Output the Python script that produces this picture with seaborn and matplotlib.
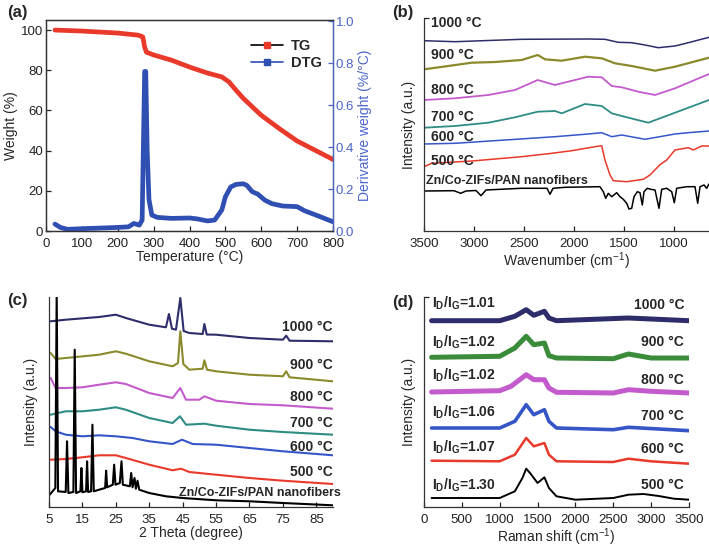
import numpy as np
import pandas as pd
import matplotlib
matplotlib.use('Agg')
import matplotlib.pyplot as plt
from matplotlib.lines import Line2D
import seaborn as sns

# ---------------- (a) TG / DTG ----------------
tg_temp = [25, 100, 200, 255, 265, 270, 275, 280, 300, 350, 400, 450, 490, 510, 530, 550, 600, 650, 700, 750, 800]
tg_weight = [100, 99.5, 98.5, 97.5, 97, 96.5, 91.5, 89, 87.6, 85, 81.6, 78.6, 76.7, 74.2, 70, 66, 57.6, 51, 44.8, 40.2, 35.6]

dtg_temp = [25, 40, 60, 100, 150, 200, 230, 245, 260, 268, 272, 275, 278, 282, 287, 295, 310, 350, 400,
            420, 450, 470, 490, 500, 515, 530, 550, 560, 575, 590, 610, 630, 660, 700, 720, 760, 800]
dtg_value = [0.033, 0.017, 0.008, 0.011, 0.014, 0.017, 0.02, 0.036, 0.028, 0.052, 0.46, 0.76, 0.76, 0.385, 0.15,
             0.076, 0.065, 0.06, 0.062, 0.058, 0.048, 0.052, 0.1, 0.163, 0.21, 0.222, 0.225, 0.217, 0.187, 0.176,
             0.147, 0.13, 0.119, 0.116, 0.097, 0.071, 0.044]

# ---------------- (b) FTIR ----------------
ftir_labels = ['1000 °C', '900 °C', '800 °C', '700 °C', '600 °C', '500 °C', 'Zn/Co-ZIFs/PAN nanofibers']

ftir_wn_1000 = [3500, 3190, 2523, 1857, 1690, 1557, 1423, 1290, 1157, 990, 857, 650]
ftir_1000 = [190.3, 189.3, 191.7, 192, 191.7, 188.7, 188.3, 186, 183.3, 185, 188.3, 193.7]

ftir_wn_900 = [3500, 3257, 3023, 2790, 2523, 2363, 2290, 2123, 1890, 1723, 1590, 1423, 1190, 990, 650]
ftir_900 = [161.7, 165, 168.3, 169, 171, 176, 171.7, 170.3, 174.3, 172.7, 167.7, 165, 160.3, 164.3, 173.3]

ftir_wn_800 = [3500, 3190, 2857, 2590, 2363, 2190, 2123, 1857, 1723, 1623, 1523, 1357, 1190, 990, 650]
ftir_800 = [131, 132.7, 136, 141, 151, 146, 147.7, 154.3, 153.7, 145, 143.7, 139.3, 136, 142.7, 157]

ftir_wn_700 = [3500, 3190, 2857, 2590, 2363, 2190, 2123, 1890, 1723, 1623, 1523, 1257, 990, 650]
ftir_700 = [103.3, 105, 108.3, 113.7, 119.3, 120, 117.7, 127, 125, 117.7, 115, 108.3, 118.3, 131]

ftir_wn_600 = [3500, 3190, 2690, 2190, 1857, 1723, 1623, 1523, 1290, 990, 857, 650]
ftir_600 = [87, 87.7, 91, 94.3, 97, 98.3, 94.3, 96, 91.7, 97, 98.3, 100]

ftir_wn_500 = [3500, 3423, 3023, 2523, 2223, 2023, 1790, 1723, 1690, 1640, 1607, 1473, 1307, 1240, 1140,
               1073, 990, 857, 807, 723, 650]
ftir_500 = [64.3, 67.7, 70, 74.3, 77.7, 80.3, 84.3, 85.3, 71, 56, 50.3, 49.3, 51.7, 56, 66.3,
            71, 81, 83.3, 81, 85, 85]

ftir_wn_zif = [3500, 3200, 3133, 3080, 2980, 2930, 2880, 2530, 2270, 2240, 2210, 2090, 1740, 1707, 1683,
               1657, 1623, 1573, 1540, 1507, 1473, 1450, 1423, 1400, 1367, 1340, 1317, 1300, 1267, 1233,
               1190, 1150, 1123, 1073, 1023, 997, 973, 873, 790, 763, 740, 700, 673, 650]
ftir_zif = [40, 40.3, 37.7, 40, 40.5, 35.3, 41, 42.7, 42.7, 36.7, 42.7, 43.7, 44.3, 39.3, 32.7,
            37.7, 34.3, 38.3, 34.3, 31.7, 27.7, 22, 22.7, 34.3, 39.3, 38.3, 26, 39.3, 42.7, 41.7,
            41, 22.7, 41.7, 42.7, 39.3, 28.3, 42.7, 44.3, 44.3, 27.7, 44.3, 46, 42.7, 47]

# ---------------- (c) XRD ----------------
xrd_tt_1000 = [5.5, 10, 20, 25, 28, 35, 40, 40.9, 41.8, 43, 44.3, 45.3, 47, 51, 51.5, 52.2, 55, 65, 75, 76, 77, 90]
xrd_1000 = [185.7, 187.3, 190, 192.3, 189, 182.3, 179.7, 193, 178.3, 177.3, 209, 176, 174, 173, 183, 172.5,
            172.3, 169, 167.3, 171.3, 166.3, 165.7]

xrd_tt_900 = [5.5, 7, 10, 20, 25, 28, 35, 42, 43.6, 44.3, 45.2, 47, 51, 51.5, 52.3, 55, 65, 75, 76, 77, 90]
xrd_900 = [154, 148, 149, 152.3, 155.7, 153.3, 145.7, 140.7, 144, 175.7, 143, 137.3, 138.3, 146.7, 137.3,
           135.7, 132.3, 130.7, 135.7, 129.7, 125.7]

xrd_tt_800 = [5.5, 7, 10, 15, 20, 25, 28, 35, 42, 44.3, 46, 50, 51.5, 55, 65, 75, 90]
xrd_800 = [129, 119, 119, 119.7, 122.3, 124.7, 123, 114, 109, 119, 107.3, 107.3, 110.7, 106.3, 103, 101.7, 98.3]

xrd_tt_700 = [5.5, 10, 15, 20, 25, 28, 35, 42, 44.2, 46, 51.5, 55, 65, 75, 90]
xrd_700 = [92.3, 95.7, 95.7, 97.3, 99.7, 97.3, 89, 84, 90.7, 82.3, 83.3, 81.3, 77.3, 75, 72.3]

xrd_tt_600 = [5.5, 7, 10, 15, 20, 25, 30, 35, 42, 44.8, 48, 55, 65, 75, 90]
xrd_600 = [80, 75.7, 72.3, 70.7, 71.7, 70.7, 69, 65.7, 63, 67.3, 63, 62.3, 59, 55.7, 51.7]

xrd_tt_500 = [5.5, 10, 15, 20, 25, 28, 35, 42, 44.5, 47, 55, 65, 75, 90]
xrd_500 = [47.3, 48, 49.7, 51.7, 51.7, 49, 42.3, 36.7, 38.3, 35, 32.3, 29, 26.3, 23]

xrd_tt_zif = [5.2, 6.9, 7.3, 7.7, 10.0, 10.4, 10.8, 12.3, 12.7, 13.1, 14.4, 14.7, 15.0, 16.1, 16.4, 16.7,
              17.6, 18.0, 18.4, 20, 21.8, 22.1, 22.4, 24.1, 24.5, 24.9, 26.2, 26.7, 27.1, 29.2, 29.6, 30.0,
              30.6, 31.0, 31.5, 32.0, 35, 40, 45, 55, 65, 75, 90]
xrd_zif = [12.3, 19, 215, 15.7, 15, 65.7, 14, 15, 157.3, 14, 15.7, 39, 14.7, 15.7, 45.7, 15, 15.7, 82.3, 15.7,
           17.3, 19, 36.3, 19.7, 22.3, 42.3, 22.3, 24, 45.7, 22.3, 20.7, 34, 19.7, 29, 18.3, 26.3, 17.3,
           14, 10.7, 9, 6.7, 5.7, 4, 1.7]

# ---------------- (d) Raman ----------------
raman_ratio = ['1.01', '1.02', '1.02', '1.06', '1.07', '1.30']
raman_temp = ['1000 °C', '900 °C', '800 °C', '700 °C', '600 °C', '500 °C']

raman_x_1000 = [100, 1000, 1200, 1350, 1450, 1590, 1650, 1750, 2700, 3500]
raman_1000 = [186.3, 186.3, 190.7, 197.3, 191.7, 195.7, 189, 186.3, 189, 186.3]

raman_x_900 = [100, 1000, 1200, 1350, 1450, 1590, 1650, 1750, 2500, 2700, 3000, 3500]
raman_900 = [149.7, 150.7, 159, 170.7, 162.3, 164, 151.3, 149, 148.3, 153, 149, 149]

raman_x_800 = [100, 1000, 1150, 1350, 1450, 1590, 1650, 1750, 2500, 2700, 3000, 3500]
raman_800 = [115, 116.3, 120.7, 132.3, 127.3, 127.3, 119, 114.7, 114, 117.3, 115.7, 114]

raman_x_700 = [100, 1000, 1200, 1350, 1450, 1590, 1650, 1750, 2500, 2700, 3500]
raman_700 = [79, 79, 85.7, 102.3, 92.3, 97.3, 85.7, 79, 77.3, 79.7, 76.3]

raman_x_600 = [100, 1000, 1200, 1350, 1450, 1590, 1650, 1750, 2500, 2700, 3000, 3500]
raman_600 = [46.3, 45.7, 52.3, 69, 60.7, 64, 52.3, 45.7, 45, 48.3, 45.7, 43.3]

raman_x_500 = [100, 1000, 1200, 1300, 1350, 1400, 1500, 1590, 1650, 1750, 2000, 2500, 2700, 2900, 3100, 3300, 3500]
raman_500 = [9, 9, 15.7, 29, 38.3, 34, 24, 29.7, 19, 10.7, 7.3, 9, 12.3, 13, 11, 8.3, 7.3]

# ---------------- styling ----------------
sns.set_theme(style='ticks')
plt.rcParams['font.family'] = ['Liberation Sans', 'DejaVu Sans']
plt.rcParams['mathtext.fontset'] = 'custom'
plt.rcParams['mathtext.rm'] = 'Liberation Sans'
plt.rcParams['mathtext.it'] = 'Liberation Sans:italic'
plt.rcParams['mathtext.bf'] = 'Liberation Sans:bold'
plt.rcParams['xtick.direction'] = 'in'
plt.rcParams['ytick.direction'] = 'in'

TICK_FS = 9.5
LABEL_FS = 10
ANN_FS = 10

c_navy = '#2e2d6b'
c_olive = '#8a8a2d'
c_magenta = '#c35bcc'
c_teal = '#2e8c84'
c_blue = '#3656c8'
c_red = '#e8392a'
c_green = '#3b8c3a'
c_dtg = '#2f4fb2'
c_axblue = '#4b64c9'

W, H = 709, 548
fig = plt.figure(figsize=(W / 100, H / 100), dpi=100)


def px_axes(left, top, right, bottom):
    return fig.add_axes([left / W, (H - bottom) / H, (right - left) / W, (bottom - top) / H])


def style_spines(ax):
    for s in ['left', 'bottom', 'top', 'right']:
        ax.spines[s].set_linewidth(0.9)
        ax.spines[s].set_color('#333333')
    ax.tick_params(labelsize=TICK_FS, width=0.9, length=3.5, colors='#222222', pad=2)
    ax.tick_params(axis='x', pad=5)


def line(ax, x, y, color, lw):
    sns.lineplot(x=x, y=y, ax=ax, color=color, lw=lw, estimator=None, sort=False)


# ---------------- (a) ----------------
ax_a = px_axes(46, 20, 333, 231)
line(ax_a, tg_temp, tg_weight, c_red, 3.4)
ax_a.set_xlim(0, 800)
ax_a.set_ylim(0, 105)
ax_a.set_xticks(range(0, 801, 100))
ax_a.set_yticks(range(0, 101, 20))
style_spines(ax_a)
ax_a.set_xlabel('Temperature (°C)', fontsize=LABEL_FS, labelpad=0)
ax_a.set_ylabel('Weight (%)', fontsize=LABEL_FS, labelpad=2)

ax_a2 = ax_a.twinx()
line(ax_a2, dtg_temp, dtg_value, c_dtg, 3.4)
ax_a2.set_ylim(0, 1.005)
ax_a2.set_yticks(np.arange(0, 1.01, 0.2))
ax_a2.set_yticklabels(['0.0', '0.2', '0.4', '0.6', '0.8', '1.0'])
style_spines(ax_a2)
ax_a2.spines['right'].set_color(c_axblue)
ax_a2.tick_params(axis='y', colors=c_axblue, labelsize=TICK_FS)
ax_a2.set_ylabel('Derivative weight (%/°C)', fontsize=LABEL_FS, color=c_axblue, labelpad=3)
ax_a2.set_xlim(0, 800)

handles = [Line2D([], [], color='black', lw=1.2, marker='s', markersize=5,
                  markerfacecolor=c_red, markeredgecolor=c_red),
           Line2D([], [], color=c_dtg, lw=1.2, marker='s', markersize=5,
                  markerfacecolor=c_dtg, markeredgecolor=c_dtg)]
ax_a2.legend(handles, ['TG', 'DTG'], loc='upper left', bbox_to_anchor=(0.67, 0.97), frameon=False,
             prop={'weight': 'bold', 'size': 10.5}, handlelength=2.2, handletextpad=0.5, labelspacing=0.2)

# ---------------- (b) ----------------
ax_b = px_axes(424, 18, 709, 231)
ftir_x = [ftir_wn_1000, ftir_wn_900, ftir_wn_800, ftir_wn_700, ftir_wn_600, ftir_wn_500, ftir_wn_zif]
ftir_y = [ftir_1000, ftir_900, ftir_800, ftir_700, ftir_600, ftir_500, ftir_zif]
ftir_colors = [c_navy, c_olive, c_magenta, c_teal, c_blue, c_red, 'black']
ftir_lw = [1.1, 1.6, 1.3, 1.3, 1.1, 1.1, 1.1]
for xs, ys, c, lw in zip(ftir_x, ftir_y, ftir_colors, ftir_lw):
    line(ax_b, xs, ys, c, lw)
ax_b.set_xlim(3500, 650)
ax_b.set_ylim(0, 213)
ax_b.set_xticks([3500, 3000, 2500, 2000, 1500, 1000])
ax_b.set_yticks([213])
ax_b.set_yticklabels([])
style_spines(ax_b)
ax_b.spines['top'].set_visible(False)
ax_b.spines['right'].set_visible(False)
ax_b.set_xlabel('Wavenumber (cm$^{-1}$)', fontsize=LABEL_FS, labelpad=0)
ax_b.set_ylabel('Intensity (a.u.)', fontsize=LABEL_FS, labelpad=4)
ftir_label_y = [208, 176, 141, 114, 94, 70]
for lab, yy in zip(ftir_labels[:-1], ftir_label_y):
    ax_b.text(3434, yy, lab, fontsize=ANN_FS, fontweight='bold', va='center', ha='left')
ax_b.text(3481, 50, ftir_labels[-1], fontsize=ANN_FS - 1, fontweight='bold', va='center', ha='left')

# ---------------- (c) ----------------
ax_c = px_axes(49, 297, 333, 507)
xrd_x = [xrd_tt_1000, xrd_tt_900, xrd_tt_800, xrd_tt_700, xrd_tt_600, xrd_tt_500, xrd_tt_zif]
xrd_y = [xrd_1000, xrd_900, xrd_800, xrd_700, xrd_600, xrd_500, xrd_zif]
xrd_colors = [c_navy, c_olive, c_magenta, c_teal, c_blue, c_red, 'black']
for xs, ys, c in zip(xrd_x, xrd_y, xrd_colors):
    line(ax_c, xs, ys, c, 1.5)
ax_c.set_xlim(5, 90)
ax_c.set_ylim(0, 210)
ax_c.set_xticks(range(5, 90, 10))
ax_c.set_yticks([])
style_spines(ax_c)
ax_c.spines['top'].set_visible(False)
ax_c.spines['right'].set_visible(False)
ax_c.set_xlabel('2 Theta (degree)', fontsize=LABEL_FS, labelpad=0)
ax_c.set_ylabel('Intensity (a.u.)', fontsize=LABEL_FS, labelpad=8)
xrd_label_y = [180, 142, 110, 84, 60, 35]
for lab, yy in zip(ftir_labels[:-1], xrd_label_y):
    ax_c.text(90, yy, lab, fontsize=ANN_FS, fontweight='bold', va='center', ha='right')
ax_c.text(92.5, 14, ftir_labels[-1], fontsize=ANN_FS - 1, fontweight='bold', va='center', ha='right',
          clip_on=False)

# ---------------- (d) ----------------
ax_d = px_axes(424, 297, 689, 507)
raman_x = [raman_x_1000, raman_x_900, raman_x_800, raman_x_700, raman_x_600, raman_x_500]
raman_y = [raman_1000, raman_900, raman_800, raman_700, raman_600, raman_500]
raman_colors = [c_navy, c_green, c_magenta, c_blue, c_red, 'black']
raman_lw = [3.6, 3.6, 3.6, 2.6, 1.8, 1.4]
for xs, ys, c, lw in zip(raman_x, raman_y, raman_colors, raman_lw):
    line(ax_d, xs, ys, c, lw)
ax_d.set_xlim(0, 3500)
ax_d.set_ylim(0, 210)
ax_d.set_xticks(range(0, 3501, 500))
ax_d.set_yticks([210])
ax_d.set_yticklabels([])
style_spines(ax_d)
ax_d.spines['top'].set_visible(False)
ax_d.spines['right'].set_visible(False)
ax_d.set_xlabel('Raman shift (cm$^{-1}$)', fontsize=LABEL_FS, labelpad=0)
ax_d.set_ylabel('Intensity (a.u.)', fontsize=LABEL_FS, labelpad=4)
ratio_y = [204, 165, 132, 95, 60, 22]
temp_y = [202, 165, 127, 91, 58, 22]
for r, yy in zip(raman_ratio, ratio_y):
    ax_d.text(106, yy, r'I$_\mathbf{D}$/I$_\mathbf{G}$=' + r, fontsize=ANN_FS, fontweight='bold',
              va='center', ha='left')
for t, yy in zip(raman_temp, temp_y):
    ax_d.text(3434, yy, t, fontsize=ANN_FS, fontweight='bold', va='center', ha='right')

# panel letters
for lab, x, y in [('(a)', 7, 12), ('(b)', 392, 12), ('(c)', 7, 300), ('(d)', 392, 303)]:
    fig.text(x / W, 1 - y / H, lab, fontsize=12, fontweight='bold', va='center', ha='left')

fig.savefig('out.png', dpi=100)
